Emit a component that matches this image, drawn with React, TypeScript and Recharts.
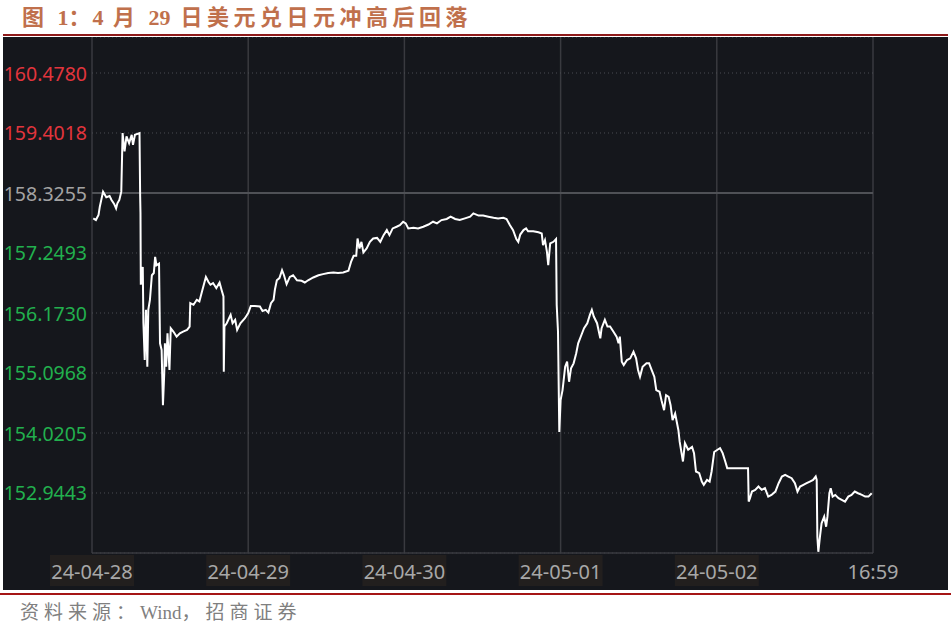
import {CartesianGrid, Line, LineChart, ReferenceLine, XAxis, YAxis} from 'recharts'

// hours since the 24-04-28 session open, and the USD/JPY quote at that time
const hours = [
    0.2, 0.6, 1.0, 1.2, 1.7, 2.2, 2.7, 3.0, 3.4, 3.7, 3.9, 4.2, 4.5, 4.7, 5.0, 5.3, 5.7, 6.1, 6.3, 6.6,
    7.3, 7.4, 7.45, 7.5, 7.8, 7.9, 8.1, 8.3, 8.5, 8.65, 8.9, 9.2, 9.5, 9.7, 9.9, 10.3, 10.45, 10.7, 10.9, 11.1,
    11.2, 11.4, 11.6, 11.9, 12.1, 12.5, 13.0, 13.5, 14.0, 14.6, 15.0, 15.1, 15.6, 16.1, 16.5, 16.9, 17.5, 17.9, 18.2, 18.6,
    19.1, 19.6, 19.9, 20.2, 20.25, 20.35, 20.7, 21.3, 21.6, 22.0, 22.3, 22.8, 23.5, 24.0, 24.4, 25.0, 25.8, 26.2, 26.7, 27.1,
    27.5, 27.9, 28.1, 28.4, 28.8, 29.2, 29.5, 29.9, 30.4, 30.9, 31.5, 32.2, 32.7, 33.2, 34.0, 34.8, 35.5, 36.3, 37.1, 37.8,
    38.6, 39.4, 39.8, 40.2, 40.6, 40.8, 41.1, 41.4, 41.7, 42.2, 42.7, 43.2, 43.8, 44.3, 44.8, 45.3, 45.7, 46.2, 46.8, 47.3,
    47.8, 48.2, 48.6, 49.4, 50.1, 50.9, 51.7, 52.4, 53.0, 53.7, 54.5, 55.1, 55.8, 56.5, 57.3, 58.1, 58.6, 59.4, 60.1, 60.9,
    61.7, 62.4, 63.2, 63.7, 64.2, 64.7, 65.2, 65.5, 65.8, 66.3, 66.7, 67.0, 67.8, 68.6, 69.1, 69.3, 69.6, 69.9, 70.1, 70.4,
    70.9, 71.3, 71.4, 71.6, 71.8, 72.0, 72.3, 72.7, 73.0, 73.3, 73.6, 74.0, 74.4, 74.7, 75.3, 75.6, 76.1, 76.5, 76.8, 77.1,
    77.6, 78.1, 78.3, 78.8, 79.2, 79.6, 80.1, 80.6, 80.9, 81.1, 81.4, 81.7, 82.2, 82.7, 83.2, 83.6, 83.9, 84.2, 84.6, 85.2,
    85.6, 86.0, 86.4, 86.7, 87.2, 87.5, 87.9, 88.2, 88.6, 88.9, 89.2, 89.6, 90.1, 90.3, 90.8, 91.1, 91.6, 92.2, 92.5, 92.8,
    93.3, 93.7, 94.0, 94.5, 94.9, 95.2, 95.6, 96.1, 96.5, 96.9, 97.3, 97.6, 100.8, 100.9, 101.1, 101.4, 101.9, 102.4, 102.9, 103.4,
    103.9, 104.4, 105.0, 105.5, 106.0, 106.5, 107.0, 107.5, 108.0, 108.4, 108.8, 109.3, 109.8, 110.3, 110.8, 111.2, 111.35, 111.45, 111.6, 111.85,
    112.1, 112.5, 112.8, 113.0, 113.3, 113.5, 113.8, 114.2, 114.7, 115.2, 115.7, 116.2, 116.7, 117.2, 117.7, 118.3, 118.8, 119.3, 119.8,
]

const rates = [
    157.87, 157.84, 157.93, 158.08, 158.35, 158.25, 158.27, 158.20, 158.13, 158.05, 158.14, 158.20, 158.35, 159.40, 159.07, 159.34, 159.22, 159.37, 159.19, 159.37,
    159.40, 158.26, 157.97, 156.68, 157.00, 155.99, 155.33, 156.23, 155.21, 156.23, 156.41, 156.85, 156.89, 157.18, 157.03, 157.06, 155.63, 155.51, 154.52, 155.09,
    155.63, 155.21, 155.81, 155.15, 155.90, 155.84, 155.75, 155.81, 155.84, 155.87, 155.93, 156.35, 156.32, 156.41, 156.38, 156.56, 156.82, 156.73, 156.68, 156.71,
    156.62, 156.72, 156.59, 156.47, 155.12, 155.93, 155.99, 156.14, 155.99, 156.05, 155.87, 155.99, 156.08, 156.17, 156.30, 156.30, 156.29, 156.21, 156.23, 156.18,
    156.35, 156.41, 156.59, 156.76, 156.80, 156.94, 156.85, 156.69, 156.82, 156.85, 156.76, 156.75, 156.72, 156.76, 156.81, 156.85, 156.87, 156.89, 156.90, 156.89,
    156.90, 156.93, 157.09, 157.20, 157.20, 157.51, 157.33, 157.45, 157.26, 157.33, 157.45, 157.51, 157.52, 157.45, 157.57, 157.66, 157.57, 157.69, 157.72, 157.75,
    157.81, 157.78, 157.69, 157.70, 157.69, 157.72, 157.76, 157.81, 157.78, 157.84, 157.86, 157.90, 157.86, 157.84, 157.87, 157.90, 157.96, 157.92, 157.92, 157.90,
    157.88, 157.87, 157.88, 157.86, 157.75, 157.66, 157.50, 157.45, 157.58, 157.66, 157.69, 157.64, 157.64, 157.62, 157.60, 157.39, 157.48, 157.27, 157.03, 157.42,
    157.45, 157.50, 156.32, 155.84, 154.04, 154.61, 154.79, 155.21, 155.30, 154.94, 155.18, 155.27, 155.45, 155.63, 155.81, 155.90, 155.99, 156.14, 156.23, 156.11,
    155.99, 155.72, 155.90, 156.05, 155.93, 155.93, 155.84, 155.75, 155.63, 155.75, 155.30, 155.24, 155.33, 155.36, 155.48, 155.36, 155.15, 155.03, 155.21, 155.27,
    155.27, 155.15, 155.03, 154.79, 154.76, 154.61, 154.43, 154.70, 154.67, 154.52, 154.25, 154.37, 154.07, 153.86, 153.51, 153.84, 153.72, 153.77, 153.66, 153.33,
    153.30, 153.15, 153.09, 153.18, 153.15, 153.33, 153.68, 153.72, 153.75, 153.66, 153.51, 153.39, 153.39, 152.79, 152.85, 152.97, 153.00, 153.06, 153.00, 153.03,
    152.88, 152.91, 152.97, 153.12, 153.24, 153.27, 153.24, 153.21, 153.12, 152.97, 153.06, 153.09, 153.12, 153.15, 153.18, 153.24, 153.18, 152.16, 151.89, 152.16,
    152.40, 152.52, 152.34, 152.52, 152.94, 153.03, 152.88, 152.91, 152.85, 152.82, 152.79, 152.88, 152.91, 152.97, 152.94, 152.91, 152.88, 152.88, 152.94,
]

const dayTicks = [0, 24, 48, 72, 96, 120]
const dayLabels = ['24-04-28', '24-04-29', '24-04-30', '24-05-01', '24-05-02', '16:59']

const BASE = 158.3255
const priceTicks = [152.9443, 154.0205, 155.0968, 156.1730, 157.2493, 158.3255, 159.4018, 160.4780]
const priceDomain = [151.86805, 161.12375]

const RED = '#e2353d'
const GREEN = '#22b04e'
const GREY = '#a3a3a3'
const TICK_FONT = "'Noto Sans', 'Open Sans', sans-serif"
const SERIF = "'Liberation Serif', 'Noto Sans CJK SC', serif"

const series = hours.map((h, i) => ({h, rate: rates[i]}))

const toneOf = (v: number) => Math.abs(v - BASE) < 1e-6 ? GREY : v > BASE ? RED : GREEN

const PriceTick = (props: any) => {
    const {x, y, payload, textAnchor} = props
    return (
        <text x={x} y={y} textAnchor={textAnchor} dominantBaseline="central"
              fontSize={19.5} fontFamily={TICK_FONT} fill={toneOf(payload.value)}>
            {payload.value.toFixed(4)}
        </text>
    )
}

const PctTick = (props: any) => {
    const {x, y, payload, textAnchor} = props
    const pct = Math.abs(payload.value / BASE - 1) * 100
    return (
        <text x={x} y={y} textAnchor={textAnchor} dominantBaseline="central"
              fontSize={19.5} fontFamily={TICK_FONT} fill={toneOf(payload.value)}>
            {pct.toFixed(2)}%
        </text>
    )
}

const DateTick = (props: any) => {
    const {x, y, payload} = props
    const idx = dayTicks.indexOf(payload.value)
    const label = dayLabels[idx]
    const boxed = label.length > 5
    return (
        <g>
            {boxed && <rect x={x - 42} y={y + 2} width={84} height={31} fill="#221f1e"/>}
            <text x={x} y={y + 18} textAnchor="middle" dominantBaseline="central"
                  fontSize={20} fontFamily={TICK_FONT} fill="#a8a8a8">
                {label}
            </text>
        </g>
    )
}

export default function App() {
    return (
        <div style={{position: 'absolute', left: 0, top: 0, width: 951, height: 626, background: '#fff'}}>
            <svg width={951} height={626} style={{position: 'absolute', left: 0, top: 0}}>
                <text x={22} y={25} fontSize={22} fontWeight="bold" fill="#c0704c" fontFamily={SERIF}>
                    <tspan letterSpacing={4}>图 </tspan>
                    <tspan>1</tspan>
                    <tspan letterSpacing={2}>：</tspan>
                    <tspan>4</tspan>
                    <tspan letterSpacing={4}> 月 </tspan>
                    <tspan>29</tspan>
                    <tspan letterSpacing={4.5}> 日美元兑日元冲高后回落</tspan>
                </text>
                <rect x={3} y={34} width={945} height={2} fill="#8f1a1a"/>
                <rect x={3} y={37} width={945} height={553} fill="#15171c"/>
                <rect x={0} y={593} width={951} height={2} fill="#a51515"/>
                <text x={20} y={619} fontSize={19} fill="#808080" fontFamily={SERIF}>
                    <tspan letterSpacing={5}>资料来源：</tspan>
                    <tspan>Wind</tspan>
                    <tspan letterSpacing={5}>，招商证券</tspan>
                </text>
            </svg>
            <div style={{position: 'absolute', left: 3, top: 37}}>
                <LineChart width={945} height={553} data={series} margin={{top: 0, right: 0, bottom: 0, left: 0}}>
                    <CartesianGrid horizontal={false} stroke="#393a3f" strokeWidth={1.5}/>
                    <CartesianGrid vertical={false} stroke="#4a4c52" strokeDasharray="1 3"/>
                    <XAxis dataKey="h" type="number" domain={[0, 120]} ticks={dayTicks} interval={0}
                           height={37} tickLine={false} tickSize={0} tickMargin={0}
                           axisLine={{stroke: '#393a3f', strokeWidth: 1.5}} tick={<DateTick/>}/>
                    <YAxis type="number" domain={priceDomain} ticks={priceTicks} interval={0} width={89}
                           axisLine={false} tickLine={false} tickSize={0} tickMargin={5} tick={<PriceTick/>}/>
                    <YAxis yAxisId="pct" orientation="right" type="number" domain={priceDomain} ticks={priceTicks}
                           interval={0} width={75} axisLine={false} tickLine={false} tickSize={0} tickMargin={4}
                           tick={<PctTick/>}/>
                    <ReferenceLine y={BASE} stroke="#4f5156" strokeWidth={2}/>
                    <Line dataKey="rate" type="linear" stroke="#ffffff" strokeWidth={2} dot={false}
                          isAnimationActive={false}/>
                </LineChart>
            </div>
        </div>
    )
}
